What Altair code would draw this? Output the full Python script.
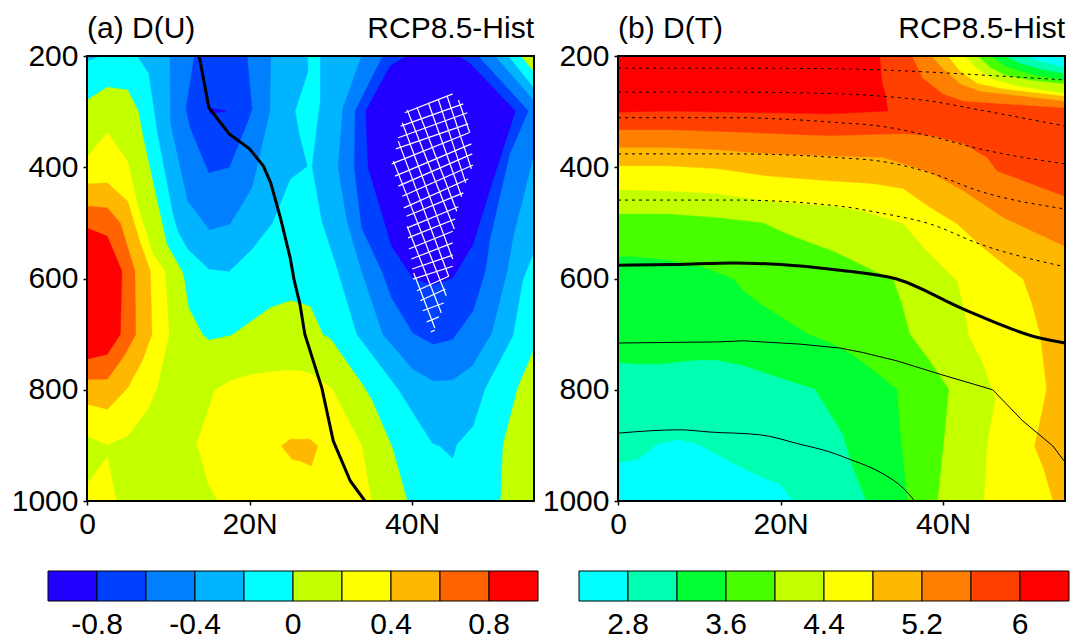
import altair as alt
import pandas as pd

FONT = "Liberation Sans"
W, H = 447, 445

# ---------- panel (a): zonal wind change, contour regions as (lat, pressure) ----------
A_BG = [(0, 200), (55, 200), (55, 1000), (0, 1000)]
A_POS_MAIN = [(0,279),(2.5,256),(5,261),(6.3,299),(7,353),(9.8,538),(11.7,587),(12,604),(12.5,653),(14.2,700),(15,711),(17.8,702),(22.5,653),(25,640),(26.2,644),(27.5,651),(29,700),(30,709),(34,793),(35,817),(37.6,905),(39.4,1000),(0,1000)]
A_POS_RIGHT = [(55,727),(53,797),(51.2,898),(50.9,1000),(55,1000)]
A_POS_CORNER = [(53.4,200),(55,228),(55,200)]
A_M2_CORNER = [(0,200),(1.6,200),(0,209)]
A_M2_LEFT = [(6.2,200),(7.6,231),(8.7,340),(10.6,484),(11.2,515),(12.4,547),(15,583),(17.5,587),(20.3,547),(22.8,500),(25,421),(27.1,398),(26.2,347),(25.6,299),(27.2,227),(27.1,200)]
A_M2_RIGHT = [(28.7,200),(51.8,200),(55,258),(55,551),(53.6,604),(52.4,703),(49,797),(47.5,865),(45.5,898),(45,923),(43.4,901),(42.5,896),(38.3,799),(33.2,700),(30.9,587),(28.9,497),(27.7,398),(28.7,281)]
A_M4_LEFT = [(10.2,200),(10.3,322),(12.4,461),(15.1,513),(17.6,502),(20.3,437),(22.5,299),(22.6,200)]
A_M4_RIGHT = [(33.8,200),(31.5,293),(30.9,401),(32,497),(33.8,587),(36.4,700),(40.1,763),(42.6,784),(45,782),(47.4,757),(49.8,698),(51.7,587),(52.4,527),(55,376),(55,281),(50.2,200)]
A_M6_LEFT = [(13.2,200),(12.2,295),(12.7,329),(15,410),(17.5,400),(19.8,317),(20.3,295),(19.7,200)]
A_M6_RIGHT = [(36.4,200),(33,299),(32.9,401),(33.8,509),(36.3,587),(37.5,635),(40.1,698),(42.6,718),(45,709),(47.5,658),(49,587),(49.6,527),(52,376),(54.3,299),(48.1,200)]
A_M8_RIGHT = [(39.4,200),(37.3,218),(34.3,299),(34.6,401),(37.5,542),(40.1,599),(42.5,612),(45,599),(47.5,538),(49.8,430),(52.7,299),(47.1,213),(45.7,200)]
A_M8_SLIVER = [(14.9,293),(17.2,299),(15.1,304)]
A_P2_LEFT = [(0,383),(2.5,337),(5,389),(6.3,473),(8.1,556),(9.6,587),(10.1,700),(8.6,797),(7.5,835),(5,883),(2.5,899),(0,883)]
A_P4_LEFT = [(0,430),(2.5,428),(5,461),(6.5,533),(7.8,587),(8,700),(6.8,748),(5,797),(2.5,835),(0,826)]
A_P6_LEFT = [(0,470),(2.5,473),(4.1,500),(5.9,587),(6,700),(4.7,736),(2.5,781),(0,781)]
A_P8_LEFT = [(0,509),(2.5,524),(4.3,587),(4.1,700),(2.5,736),(0,745)]
A_P2_BL = [(0,969),(2.5,921),(3.6,1000),(0,1000)]
A_P2_MAIN = [(13.5,898),(15.7,802),(17.6,784),(20.3,772),(24.5,765),(26.2,766),(27.7,772),(30.1,797),(33.8,901),(35,1000),(16.1,1000),(14.9,969)]
A_P4_SMALL = [(23.9,901),(25,889),(27.4,889),(28.4,901),(27.6,937),(26.2,928),(25.2,925)]
A_JET = [(13.8,200),(15,293),(17.5,340),(20,367),(21.7,398),(22.6,428),(23.8,491),(25,563),(25.5,604),(26.2,646),(26.8,700),(28.9,797),(30.3,892),(32.4,964),(34.2,1000)]

A_HATCH = [
    (39.1,302,45,268),(38.6,326,46.3,286),(38.3,347,46.8,302),(38,367,46.9,322),(37.5,394,47,338),
    (37.9,416,47.3,358),(38.3,434,47.4,376),(38.8,452,47.5,396),(39,473,46.9,421),(39.3,488,46.3,446),
    (39.4,509,45.7,471),(39.5,527,45.3,493),(39.6,547,45,515),(39.9,565,45,536),(40,583,45,558),
    (40.1,601,45,578),(40.6,622,44.5,596),(41,640,44.1,619),(41.3,658,43.9,644),(41.8,678,43.3,669),
    (42.3,696,42.8,693),
    (40.2,590,42.8,689),(39.4,506,43.6,662),(37.7,389,44.2,631),(38.3,353,44.5,596),(38.8,320,45,565),
    (39.4,297,45.2,511),(40.6,292,45.5,479),(42,284,46.1,453),(43.2,277,46.6,428),(44.3,272,47.3,403),
    (45.7,279,47.1,338),
]

A_REGIONS = [
    ("#00ffff", A_BG), ("#c4ff00", A_POS_MAIN), ("#c4ff00", A_POS_RIGHT), ("#c4ff00", A_POS_CORNER),
    ("#00b4ff", A_M2_CORNER), ("#00b4ff", A_M2_LEFT), ("#00b4ff", A_M2_RIGHT),
    ("#0080ff", A_M4_LEFT), ("#0080ff", A_M4_RIGHT),
    ("#0040ff", A_M6_LEFT), ("#0040ff", A_M6_RIGHT),
    ("#2200ff", A_M8_RIGHT), ("#2200ff", A_M8_SLIVER),
    ("#ffff00", A_P2_LEFT), ("#ffb800", A_P4_LEFT), ("#ff6400", A_P6_LEFT), ("#ff0000", A_P8_LEFT),
    ("#ffff00", A_P2_BL), ("#ffff00", A_P2_MAIN), ("#ffb800", A_P4_SMALL),
]
A_COLORS = ["#2200ff", "#0040ff", "#0080ff", "#00b4ff", "#00ffff", "#c4ff00", "#ffff00", "#ffb800", "#ff6400", "#ff0000"]
A_TICKS = ["-0.8", "-0.4", "0", "0.4", "0.8"]

# ---------- panel (b): temperature change ----------
B_BG = [(0, 200), (55, 200), (55, 1000), (0, 1000)]
B_RED = [(0,200),(32.2,200),(32.5,250),(32.9,268),(33.2,299),(26.1,304),(15,301),(6,299),(0,301)]
B_O1_LOW = [(0,333),(6,333),(14.2,337),(22.4,342),(26.1,344),(35.1,340),(38.8,344),(42.5,358),(45.4,383),(46.6,407),(55,453),(55,1000),(0,1000)]
B_O1_TOP = [(36.2,200),(37.5,240),(40,268),(42.5,281),(55,293),(55,200)]
B_O2_LOW = [(0,365),(6,365),(12.2,369),(18.3,376),(26.1,380),(32.6,383),(38.4,410),(42.5,443),(47.4,491),(55,543),(55,1000),(0,1000)]
B_O2_TOP = [(38.6,200),(40,223),(42.1,250),(44.5,263),(55,281),(55,200)]
B_Y_LOW = [(0,398),(6,398),(12.2,403),(18.3,416),(26.1,425),(31.4,430),(35.1,439),(38.4,473),(41.7,502),(44.9,545),(48.5,587),(49.8,601),(50.9,646),(51.9,700),(52.7,799),(51.7,869),(51.2,901),(52.3,941),(53.5,1000),(0,1000)]
B_Y_TOP = [(40.6,200),(42.1,227),(44.2,249),(47.4,259),(55,272),(55,200)]
B_L_LOW = [(0,441),(6,443),(12.2,448),(18.3,461),(26.1,470),(30.1,479),(35.1,502),(38,551),(41.7,604),(42.7,664),(43.1,700),(44.9,754),(46.4,817),(45.4,898),(45,1000),(0,1000)]
B_L_TOP = [(42.7,200),(44.2,223),(46.1,241),(49.1,254),(55,267),(55,200)]
B_G1_LOW = [(0,484),(6,484),(12.2,491),(17.8,500),(20.8,520),(24,538),(26.1,549),(28.5,565),(32.2,592),(33.8,599),(34.9,646),(35.9,700),(38.1,743),(40.7,799),(40.2,874),(39.3,1000),(0,1000)]
B_G1_TOP = [(44.3,200),(45.8,220),(47.6,234),(50.7,243),(55,250),(55,200)]
B_G2_LOW = [(0,561),(1.8,561),(6,567),(10.1,578),(14.2,601),(15.4,622),(17.8,649),(23.4,700),(26.1,716),(28.5,734),(31,761),(34.3,799),(34.7,874),(35.6,1000),(0,1000)]
B_G2_TOP = [(46,200),(47.6,218),(49.5,227),(51.9,236),(55,243),(55,200)]
B_T_LOW = [(0,752),(2.7,754),(5.2,754),(9.7,747),(12.2,747),(15.4,757),(19.9,779),(24.2,799),(26.1,844),(27.6,880),(28.9,941),(30.5,1000),(0,1000)]
B_T_TOP = [(47.6,200),(49.5,213),(51.9,223),(55,232),(55,200)]
B_C_LOW = [(0,932),(2.5,925),(4.9,898),(7.4,890),(9.8,898),(14.2,933),(17.8,959),(19.9,969),(21.5,1000),(0,1000)]
B_C_TOP = [(50.1,200),(51.9,209),(55,220),(55,200)]

B_DASH = [
    [(0,222),(14.2,222),(27.3,223),(32.2,225),(38.4,229),(44.5,234),(55,243)],
    [(0,265),(14.2,265),(27.3,268),(32.2,272),(38.4,281),(44.5,297),(55,326)],
    [(0,311),(14.2,311),(27.3,320),(32.2,326),(38.4,344),(44.5,367),(55,394)],
    [(0,376),(14.2,376),(27.3,383),(32.2,389),(38.4,410),(44.5,443),(55,475)],
    [(0,459),(14.2,459),(27.3,470),(32.2,482),(38.4,502),(44.5,538),(55,579)],
]
B_THICK = [(0,576),(7,575),(14.2,572),(20,575),(27.3,585),(34.3,601),(42.5,655),(51.9,707),(55,716)]
B_THIN1 = [(0,716),(12.2,714),(15.4,712),(22.4,718),(27.3,725),(30.1,733),(34.3,748),(39.6,772),(46.1,800),(49.8,856),(53.5,901),(55,930)]
B_THIN2 = [(0,878),(7.6,872),(11.3,876),(17.5,881),(22.4,898),(26.1,912),(28.5,925),(32.6,951),(35.1,977),(36.5,1000)]

B_REGIONS = [
    ("#ff4000", B_BG), ("#ff0000", B_RED),
    ("#ff8000", B_O1_LOW), ("#ff8000", B_O1_TOP),
    ("#ffb800", B_O2_LOW), ("#ffb800", B_O2_TOP),
    ("#ffff00", B_Y_LOW), ("#ffff00", B_Y_TOP),
    ("#c4ff00", B_L_LOW), ("#c4ff00", B_L_TOP),
    ("#48ff00", B_G1_LOW), ("#48ff00", B_G1_TOP),
    ("#00ff33", B_G2_LOW), ("#00ff33", B_G2_TOP),
    ("#00ffb0", B_T_LOW), ("#00ffb0", B_T_TOP),
    ("#00ffff", B_C_LOW), ("#00ffff", B_C_TOP),
]
B_COLORS = ["#00ffff", "#00ffb0", "#00ff33", "#48ff00", "#c4ff00", "#ffff00", "#ffb800", "#ff8000", "#ff4000", "#ff0000"]
B_TICKS = ["2.8", "3.6", "4.4", "5.2", "6"]

X_TICKS = [0, 20, 40]
Y_TICKS = [200, 400, 600, 800, 1000]

X_SCALE = alt.Scale(domain=[0, 55], nice=False, zero=False)
Y_SCALE = alt.Scale(domain=[1000, 200], nice=False, zero=False)
X_AXIS = alt.Axis(
    values=X_TICKS, labelExpr="datum.value == 0 ? '0' : datum.value + 'N'",
    grid=False, domain=False, tickSize=4, tickWidth=1.5, tickColor="black", title=None,
    labelFont=FONT, labelFontSize=30, labelColor="black", labelPadding=4,
    labelFlush=False, labelOverlap=False)
Y_AXIS = alt.Axis(
    values=Y_TICKS, format="d", grid=False, domain=False, tickSize=4, tickWidth=1.5, tickColor="black", title=None,
    labelFont=FONT, labelFontSize=30, labelColor="black", labelPadding=5,
    labelOverlap=False)
X_ENC = alt.X("lat:Q", scale=X_SCALE, axis=X_AXIS)
Y_ENC = alt.Y("p:Q", scale=Y_SCALE, axis=Y_AXIS)


def frame(points):
    return pd.DataFrame([{"i": i, "lat": a, "p": b} for i, (a, b) in enumerate(points)])


def polygon(color, points):
    return alt.Chart(frame(points)).mark_line(
        fill=color, stroke=color, strokeWidth=0.4, clip=True
    ).encode(x=X_ENC, y=Y_ENC, order=alt.Order("i:Q"))


def curve(points, width, dash=None, interpolate="linear"):
    kw = {"strokeDash": dash} if dash else {}
    return alt.Chart(frame(points)).mark_line(
        color="black", strokeWidth=width, clip=True, interpolate=interpolate, **kw
    ).encode(x=X_ENC, y=Y_ENC, order=alt.Order("i:Q"))


def frame_box():
    return alt.Chart(pd.DataFrame({"k": [0]})).mark_rect(
        filled=False, stroke="black", strokeWidth=2
    ).encode(x=alt.value(0), x2=alt.value(W), y=alt.value(0), y2=alt.value(H))


def title_text(text, xpos, align):
    return alt.Chart(pd.DataFrame({"t": [text]})).mark_text(
        font=FONT, fontSize=30, align=align, baseline="alphabetic", color="black"
    ).encode(x=alt.value(xpos), y=alt.value(-18), text="t:N")


def colorbar(colors, ticks):
    bx = alt.Scale(domain=[0, 10], range=[-39, 451], nice=False, zero=False)
    by = alt.Scale(domain=[0, 1], range=[545, 515], nice=False, zero=False)
    cells = pd.DataFrame({
        "a": list(range(10)), "b": list(range(1, 11)), "y0": [0] * 10, "y1": [1] * 10, "c": colors,
    })
    bars = alt.Chart(cells).mark_rect(stroke="black", strokeWidth=1).encode(
        x=alt.X("a:Q", scale=bx, axis=None), x2="b:Q",
        y=alt.Y("y0:Q", scale=by, axis=None), y2="y1:Q",
        fill=alt.Fill("c:N", scale=None),
    )
    labels = pd.DataFrame({"t": ticks, "a": [1, 3, 5, 7, 9], "y0": [0] * 5})
    text = alt.Chart(labels).mark_text(
        font=FONT, fontSize=30, baseline="alphabetic", align="center", color="black", dy=33
    ).encode(
        x=alt.X("a:Q", scale=bx, axis=None),
        y=alt.Y("y0:Q", scale=by, axis=None),
        text="t:N",
    )
    return alt.layer(bars, text)


def panel(regions, lines, colors, ticks, label):
    plot = alt.layer(
        *[polygon(c, pts) for c, pts in regions],
        *lines,
        frame_box(),
    )
    return alt.layer(
        plot,
        colorbar(colors, ticks),
        title_text(label, 0, "left"),
        title_text("RCP8.5-Hist", W, "right"),
    ).resolve_scale(x="independent", y="independent").properties(width=W, height=H)


hatch_df = pd.DataFrame(A_HATCH, columns=["lat", "p", "lat2", "p2"])
hatch = alt.Chart(hatch_df).mark_rule(color="white", strokeWidth=1.2, clip=True).encode(
    x=X_ENC, x2="lat2:Q", y=Y_ENC, y2="p2:Q"
)

panel_a = panel(A_REGIONS, [hatch, curve(A_JET, 3)], A_COLORS, A_TICKS, "(a) D(U)")
panel_b = panel(
    B_REGIONS,
    [curve(l, 1, [3, 4], "monotone") for l in B_DASH]
    + [curve(B_THICK, 3, None, "monotone"), curve(B_THIN1, 1), curve(B_THIN2, 1, None, "monotone")],
    B_COLORS, B_TICKS, "(b) D(T)",
)

chart = alt.hconcat(panel_a, panel_b, spacing=84, bounds="flush").configure_view(stroke=None).properties(
    padding={"left": 3, "top": 6, "right": 0, "bottom": 0}
)
chart.save("out.html", embed_options={"renderer": "svg", "actions": False})
